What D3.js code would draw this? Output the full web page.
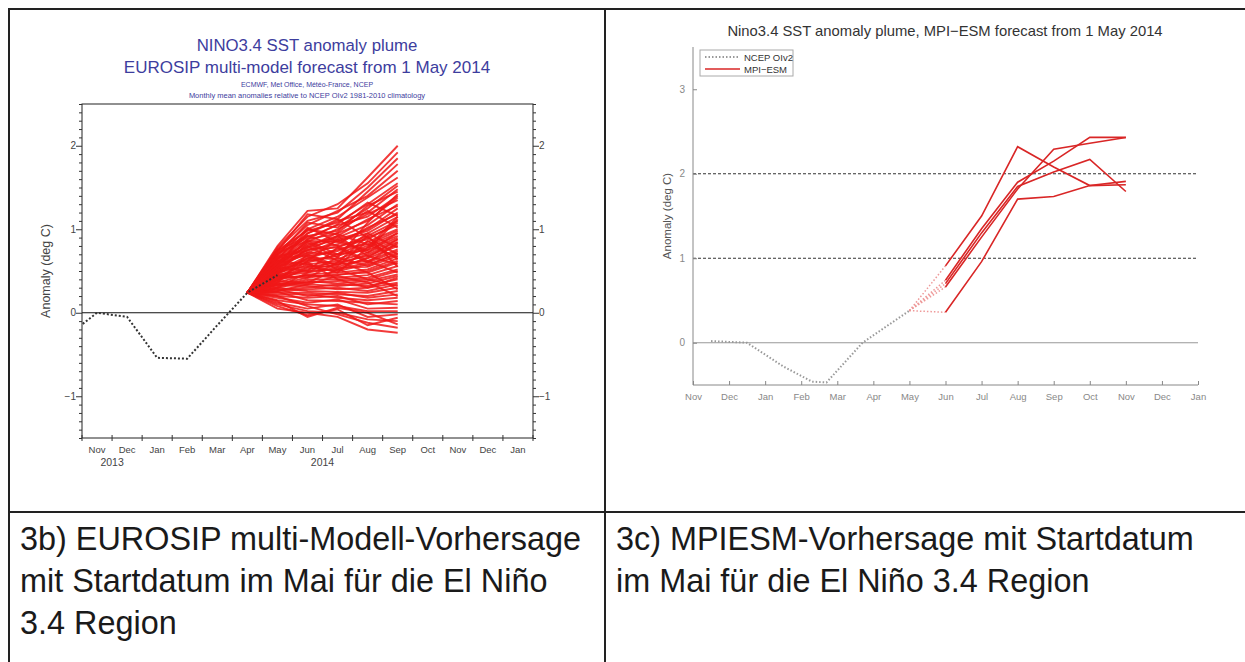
<!DOCTYPE html>
<html>
<head>
<meta charset="utf-8">
<script src="https://cdn.jsdelivr.net/npm/d3@7"></script>
<style>
  body { margin: 0; background: #fff; }
  svg { display: block; font-family: "Liberation Sans", Arial, sans-serif; }
</style>
</head>
<body>
<div id="fig"></div>
<script>
// month labels (Nov 2013 .. Jan 2015), same for both panels
var months = ["Nov","Dec","Jan","Feb","Mar","Apr","May","Jun","Jul","Aug","Sep","Oct","Nov","Dec","Jan"];

// left panel: observed NCEP OIv2, month index (0 = Nov 2013), mid-month values
var obsMonthL = [-1, 0, 1, 2, 3, 4, 5, 6];
var obsL = [-0.28, 0.0, -0.05, -0.54, -0.55, -0.15, 0.24, 0.45];

// left panel: EUROSIP members, May..Sep 2014 (start from the April observation)
var plumeMonth = [6, 7, 8, 9, 10];
var plume = [
  [0.80, 1.22, 1.25, 1.62, 2.00], [0.78, 1.15, 1.30, 1.55, 1.92], [0.76, 1.10, 1.20, 1.50, 1.85],
  [0.74, 1.18, 1.12, 1.45, 1.78], [0.72, 1.05, 1.22, 1.40, 1.70], [0.70, 1.00, 1.15, 1.38, 1.62],
  [0.75, 0.98, 1.08, 1.30, 1.55], [0.68, 1.08, 1.02, 1.25, 1.52], [0.66, 0.95, 1.10, 1.20, 1.48],
  [0.64, 0.92, 0.98, 1.28, 1.45], [0.70, 0.90, 1.05, 1.15, 1.40], [0.62, 0.88, 0.95, 1.10, 1.38],
  [0.60, 0.85, 1.00, 1.18, 1.35], [0.65, 0.82, 0.90, 1.05, 1.30], [0.58, 0.80, 0.92, 1.12, 1.28],
  [0.56, 0.86, 0.85, 1.00, 1.25], [0.62, 0.78, 0.88, 0.98, 1.20], [0.55, 0.75, 0.82, 1.02, 1.18],
  [0.60, 0.72, 0.86, 0.95, 1.15], [0.52, 0.76, 0.78, 0.92, 1.10], [0.58, 0.70, 0.80, 0.88, 1.08],
  [0.50, 0.68, 0.74, 0.90, 1.05], [0.54, 0.72, 0.70, 0.85, 1.00], [0.48, 0.65, 0.76, 0.82, 0.98],
  [0.56, 0.62, 0.68, 0.80, 0.95], [0.46, 0.66, 0.64, 0.78, 0.92], [0.52, 0.60, 0.70, 0.75, 0.90],
  [0.44, 0.58, 0.62, 0.72, 0.88], [0.50, 0.64, 0.58, 0.70, 0.85], [0.42, 0.55, 0.60, 0.68, 0.82],
  [0.48, 0.56, 0.55, 0.65, 0.80], [0.40, 0.52, 0.58, 0.62, 0.76], [0.46, 0.50, 0.52, 0.60, 0.74],
  [0.38, 0.54, 0.50, 0.58, 0.70], [0.44, 0.48, 0.54, 0.55, 0.68], [0.36, 0.46, 0.48, 0.52, 0.65],
  [0.42, 0.44, 0.45, 0.50, 0.62], [0.34, 0.42, 0.46, 0.48, 0.60], [0.40, 0.45, 0.42, 0.45, 0.56],
  [0.32, 0.40, 0.40, 0.42, 0.52], [0.38, 0.36, 0.38, 0.40, 0.50], [0.30, 0.38, 0.35, 0.38, 0.46],
  [0.35, 0.34, 0.32, 0.35, 0.44], [0.28, 0.30, 0.34, 0.32, 0.40], [0.33, 0.32, 0.28, 0.30, 0.36],
  [0.26, 0.28, 0.30, 0.26, 0.34], [0.30, 0.26, 0.25, 0.24, 0.30], [0.24, 0.24, 0.22, 0.20, 0.26],
  [0.28, 0.20, 0.24, 0.18, 0.22], [0.22, 0.22, 0.18, 0.15, 0.18], [0.20, 0.18, 0.20, 0.10, 0.14],
  [0.25, 0.15, 0.14, 0.12, 0.10], [0.18, 0.12, 0.16, 0.05, 0.06], [0.15, 0.10, 0.08, 0.02, 0.02],
  [0.12, 0.05, 0.10, -0.05, -0.02], [0.10, 0.02, 0.00, -0.08, -0.10], [0.08, -0.03, 0.04, -0.15, -0.06],
  [0.05, 0.00, -0.05, -0.20, -0.24], [0.20, 0.08, -0.02, -0.12, -0.18], [0.14, -0.05, 0.06, 0.00, -0.14],
  [0.72, 0.86, 0.70, 0.95, 0.78], [0.64, 1.02, 0.85, 0.75, 1.12], [0.58, 0.95, 1.12, 0.90, 0.70],
  [0.50, 0.78, 0.96, 1.22, 1.02], [0.46, 0.84, 0.66, 1.08, 1.42], [0.68, 0.74, 0.92, 0.68, 0.58],
  [0.40, 0.62, 0.88, 0.72, 0.96], [0.36, 0.70, 0.56, 0.86, 0.64], [0.54, 0.50, 0.78, 0.60, 0.84],
  [0.62, 0.58, 0.48, 0.78, 1.15], [0.30, 0.48, 0.66, 0.56, 0.72], [0.44, 0.42, 0.60, 0.92, 0.55],
  [0.74, 0.92, 0.80, 0.62, 0.48], [0.52, 0.88, 1.06, 1.32, 1.16], [0.66, 0.68, 0.52, 0.40, 0.32],
  [0.34, 0.36, 0.52, 0.66, 0.88], [0.48, 0.60, 0.40, 0.30, 0.42], [0.26, 0.34, 0.44, 0.36, 0.20],
  [0.60, 0.80, 0.62, 0.48, 0.28], [0.56, 1.00, 0.94, 0.82, 0.66]
];

// right panel: observed NCEP OIv2 (month index, 0 = 1 Nov 2013)
var obsMonthR = [0.5, 1.5, 2.5, 3.3, 3.7, 4.7, 6.0];
var obsR = [0.02, 0.0, -0.28, -0.46, -0.47, 0.0, 0.38];

// right panel: MPI-ESM members, Jun..Nov 2014
var fcMonth = [7, 8, 9, 10, 11, 12];
var fc = [
  [0.91, 1.50, 2.32, 2.08, 1.86, 1.87],
  [0.36, 0.96, 1.70, 1.73, 1.86, 1.91],
  [0.74, 1.35, 1.90, 2.15, 2.43, 2.43],
  [0.66, 1.25, 1.82, 2.29, 2.36, 2.43],
  [0.70, 1.30, 1.85, 2.02, 2.17, 1.79]
];

var yTicksL = [-1, 0, 1, 2];
var yTicksR = [0, 1, 2, 3];
var dashedR = [1, 2];

var captionL = ["3b) EUROSIP multi-Modell-Vorhersage", "mit Startdatum im Mai für die El Niño", "3.4 Region"];
var captionR = ["3c) MPIESM-Vorhersage mit Startdatum", "im Mai für die El Niño 3.4 Region"];

var width = 1245, height = 662;

var svg = d3.select("#fig").append("svg")
    .attr("width", width)
    .attr("height", height);

svg.append("rect").attr("width", width).attr("height", height).attr("fill", "#fff");

// table lines
var grid = svg.append("g").attr("stroke", "#222").attr("stroke-width", 2);
grid.append("line").attr("x1", 8).attr("x2", width).attr("y1", 9).attr("y2", 9);
grid.append("line").attr("x1", 8).attr("x2", width).attr("y1", 512).attr("y2", 512);
grid.append("line").attr("x1", 9).attr("x2", 9).attr("y1", 8).attr("y2", height);
grid.append("line").attr("x1", 605).attr("x2", 605).attr("y1", 8).attr("y2", height);

// captions
function caption(lines, x) {
  svg.append("g")
    .selectAll("text")
    .data(lines)
    .join("text")
    .attr("x", x)
    .attr("y", function(d, i) { return 550 + i * 42; })
    .attr("font-size", 32.4)
    .attr("fill", "#1a1a1a")
    .text(function(d) { return d; });
}
caption(captionL, 20);
caption(captionR, 616);

// ---------- left panel: EUROSIP ----------
var xL = d3.scaleLinear().domain([0, 15]).range([82, 533]);
var yL = d3.scaleLinear().domain([-1.5, 2.5]).range([438, 104]);
var blue = "#3d3d9e";

var titles = svg.append("g").attr("text-anchor", "middle").attr("fill", blue);
titles.append("text").attr("x", 307).attr("y", 51).attr("font-size", 16.8).text("NINO3.4 SST anomaly plume");
titles.append("text").attr("x", 307).attr("y", 73).attr("font-size", 17).text("EUROSIP multi-model forecast from 1 May 2014");
titles.append("text").attr("x", 307).attr("y", 87).attr("font-size", 7).text("ECMWF, Met Office, Météo-France, NCEP");
titles.append("text").attr("x", 307).attr("y", 98).attr("font-size", 7.5).text("Monthly mean anomalies relative to NCEP OIv2 1981-2010 climatology");

svg.append("clipPath").attr("id", "clipL")
  .append("rect").attr("x", xL(0)).attr("y", yL(2.5)).attr("width", xL(15) - xL(0)).attr("height", yL(-1.5) - yL(2.5));

var gL = svg.append("g");

// plume lines start from the April observation
var aprIdx = obsMonthL.indexOf(5);
var lineL = d3.line()
    .x(function(d) { return xL(d[0] + 0.5); })
    .y(function(d) { return yL(d[1]); });

gL.append("g")
  .selectAll("path")
  .data(plume)
  .join("path")
  .attr("d", function(m) {
    var pts = [[5, obsL[aprIdx]]];
    m.forEach(function(v, i) { pts.push([plumeMonth[i], v]); });
    return lineL(pts);
  })
  .attr("fill", "none")
  .attr("stroke", "#f01818")
  .attr("stroke-width", 1.9)
  .attr("stroke-opacity", 0.85);

// zero line
gL.append("line")
  .attr("x1", xL(0)).attr("x2", xL(15))
  .attr("y1", yL(0)).attr("y2", yL(0))
  .attr("stroke", "#111").attr("stroke-width", 1);

// observed, dotted
gL.append("path")
  .attr("clip-path", "url(#clipL)")
  .attr("d", lineL(obsMonthL.map(function(m, i) { return [m, obsL[i]]; })))
  .attr("fill", "none")
  .attr("stroke", "#333")
  .attr("stroke-width", 2)
  .attr("stroke-dasharray", "2,2");

// frame
gL.append("rect")
  .attr("x", xL(0)).attr("y", yL(2.5))
  .attr("width", xL(15) - xL(0)).attr("height", yL(-1.5) - yL(2.5))
  .attr("fill", "none").attr("stroke", "#222");

// y axes left and right with minor ticks every 0.1
var minorL = d3.range(-15, 26).map(function(d) { return d / 10; });
function yAxisL(axis, x, side) {
  var g = svg.append("g")
    .attr("transform", "translate(" + x + ",0)")
    .attr("font-size", 11)
    .call(axis.tickValues(minorL)
      .tickSize(3)
      .tickFormat(function(d) { return yTicksL.indexOf(d) >= 0 ? d3.format("d")(d) : ""; }));
  g.select(".domain").remove();
  g.selectAll(".tick line").attr("stroke", "#333");
  g.selectAll(".tick")
    .filter(function(d) { return yTicksL.indexOf(d) >= 0; })
    .select("line")
    .attr("x2", side * 6);
  g.selectAll("text").attr("fill", "#444").attr("font-family", null);
}
yAxisL(d3.axisLeft(yL), xL(0), -1);
yAxisL(d3.axisRight(yL), xL(15), 1);

// x axis: ticks on month boundaries, labels mid-month
var gx = svg.append("g").attr("transform", "translate(0," + yL(-1.5) + ")");
gx.selectAll("line")
  .data(d3.range(0, 16))
  .join("line")
  .attr("x1", function(d) { return xL(d); })
  .attr("x2", function(d) { return xL(d); })
  .attr("y1", -3).attr("y2", 3)
  .attr("stroke", "#333");
gx.selectAll("text.mon")
  .data(months)
  .join("text")
  .attr("class", "mon")
  .attr("x", function(d, i) { return xL(i + 0.5); })
  .attr("y", 15)
  .attr("text-anchor", "middle")
  .attr("font-size", 9.5)
  .attr("fill", "#444")
  .text(function(d) { return d; });
gx.append("text").attr("x", xL(1)).attr("y", 28).attr("text-anchor", "middle")
  .attr("font-size", 10.5).attr("fill", "#444").text("2013");
gx.append("text").attr("x", xL(8)).attr("y", 28).attr("text-anchor", "middle")
  .attr("font-size", 10.5).attr("fill", "#444").text("2014");

svg.append("text")
  .attr("transform", "translate(50," + yL(0.5) + ") rotate(-90)")
  .attr("text-anchor", "middle")
  .attr("font-size", 12.5)
  .attr("fill", "#444")
  .text("Anomaly (deg C)");

// ---------- right panel: MPI-ESM ----------
var xR = d3.scaleLinear().domain([0, 14]).range([693, 1198]);
var yR = d3.scaleLinear().domain([-0.5, 3.5]).range([385, 47]);
var gR = svg.append("g");

svg.append("text")
  .attr("x", 945).attr("y", 36)
  .attr("text-anchor", "middle")
  .attr("font-size", 14.8)
  .attr("fill", "#333")
  .text("Nino3.4 SST anomaly plume, MPI\u2212ESM forecast from 1 May 2014");

// reference lines
gR.append("line")
  .attr("x1", xR(0)).attr("x2", xR(14))
  .attr("y1", yR(0)).attr("y2", yR(0))
  .attr("stroke", "#999").attr("stroke-width", 1.2);
gR.selectAll("line.dash")
  .data(dashedR)
  .join("line")
  .attr("class", "dash")
  .attr("x1", xR(0)).attr("x2", xR(14))
  .attr("y1", function(d) { return yR(d); })
  .attr("y2", function(d) { return yR(d); })
  .attr("stroke", "#333").attr("stroke-width", 1)
  .attr("stroke-dasharray", "3,2");

var lineR = d3.line()
    .x(function(d) { return xR(d[0]); })
    .y(function(d) { return yR(d[1]); });

// observed
var lastObs = [obsMonthR[obsMonthR.length - 1], obsR[obsR.length - 1]];
gR.append("path")
  .attr("d", lineR(obsMonthR.map(function(m, i) { return [m, obsR[i]]; })))
  .attr("fill", "none")
  .attr("stroke", "#999")
  .attr("stroke-width", 2)
  .attr("stroke-dasharray", "1.5,2");

// dotted joins from last observation to forecast start
gR.selectAll("path.join")
  .data(fc)
  .join("path")
  .attr("class", "join")
  .attr("d", function(m) { return lineR([lastObs, [fcMonth[0], m[0]]]); })
  .attr("fill", "none")
  .attr("stroke", "#e99")
  .attr("stroke-width", 1.5)
  .attr("stroke-dasharray", "1.5,2");

// forecast members
gR.selectAll("path.fc")
  .data(fc)
  .join("path")
  .attr("class", "fc")
  .attr("d", function(m) { return lineR(m.map(function(v, i) { return [fcMonth[i], v]; })); })
  .attr("fill", "none")
  .attr("stroke", "#d92626")
  .attr("stroke-width", 1.6);

// axes
var axColor = "#888";
var gyR = svg.append("g")
  .attr("transform", "translate(" + xR(0) + ",0)")
  .call(d3.axisRight(yR).tickValues(yTicksR).tickSize(4).tickFormat(d3.format("d")));
gyR.select(".domain").attr("d", "M0," + yR(3.5) + "V" + yR(-0.5)).attr("stroke", axColor);
gyR.selectAll(".tick line").attr("stroke", axColor);
gyR.selectAll(".tick text")
  .attr("x", -8).attr("text-anchor", "end")
  .attr("font-size", 10).attr("fill", "#888").attr("font-family", null);

var gxR = svg.append("g")
  .attr("transform", "translate(0," + yR(-0.5) + ")")
  .call(d3.axisTop(xR).tickValues(d3.range(0, 15)).tickSize(4)
    .tickFormat(function(d) { return months[d]; }));
gxR.select(".domain").attr("d", "M" + xR(0) + ",0H" + xR(14)).attr("stroke", axColor);
gxR.selectAll(".tick line").attr("stroke", axColor);
gxR.selectAll(".tick text")
  .attr("y", 15).attr("dy", null)
  .attr("font-size", 9.5).attr("fill", "#888").attr("font-family", null);

svg.append("text")
  .attr("transform", "translate(671," + yR(1.5) + ") rotate(-90)")
  .attr("text-anchor", "middle")
  .attr("font-size", 11.5)
  .attr("fill", "#555")
  .text("Anomaly (deg C)");

// legend
var leg = svg.append("g").attr("transform", "translate(700,50)");
leg.append("rect").attr("width", 93).attr("height", 26)
  .attr("fill", "#fff").attr("stroke", "#aaa");
leg.append("line").attr("x1", 5).attr("x2", 40).attr("y1", 7).attr("y2", 7)
  .attr("stroke", "#999").attr("stroke-width", 2).attr("stroke-dasharray", "1.5,2");
leg.append("line").attr("x1", 5).attr("x2", 40).attr("y1", 19).attr("y2", 19)
  .attr("stroke", "#d92626").attr("stroke-width", 1.6);
leg.append("text").attr("x", 44).attr("y", 10.5).attr("font-size", 9.5).attr("fill", "#333").text("NCEP OIv2");
leg.append("text").attr("x", 44).attr("y", 22.5).attr("font-size", 9.5).attr("fill", "#333").text("MPI\u2212ESM");
</script>
</body>
</html>
